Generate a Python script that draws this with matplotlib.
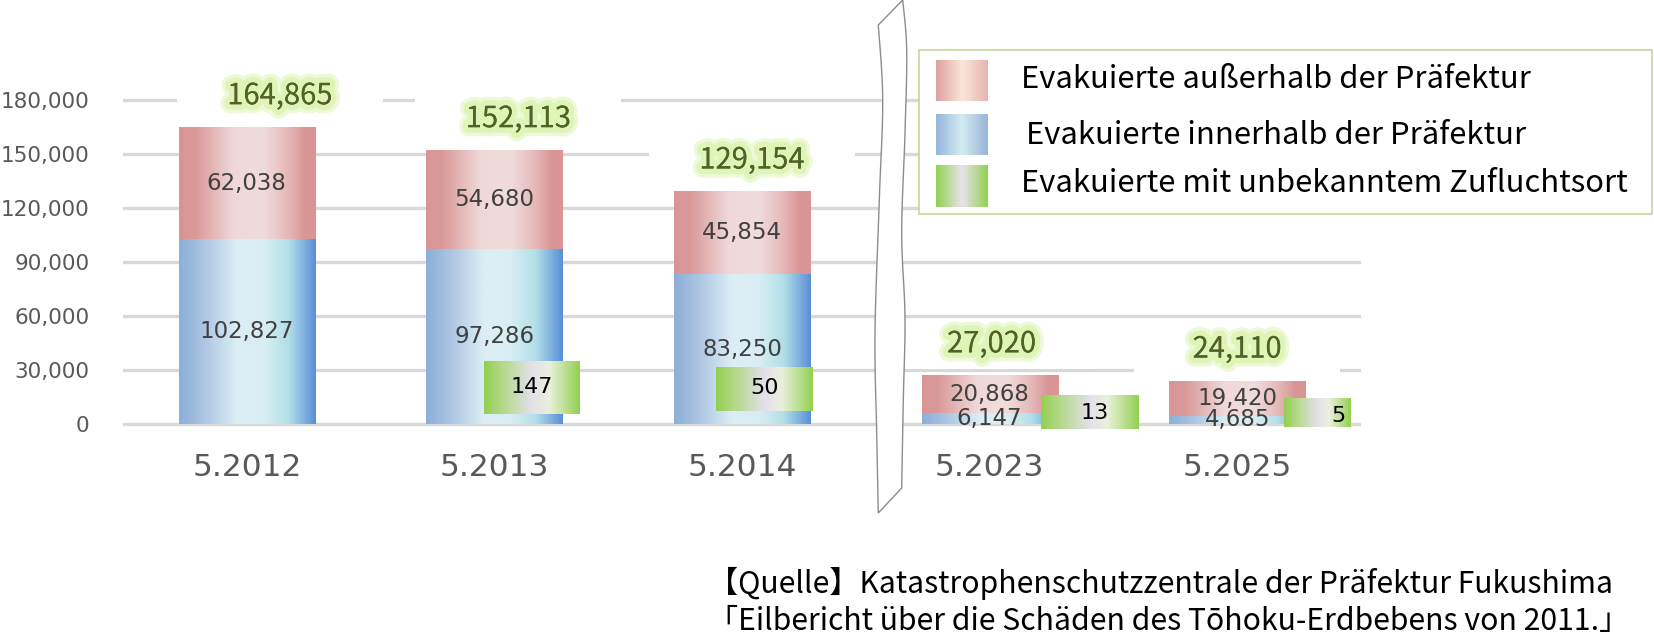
import numpy as np
import matplotlib
matplotlib.use("Agg")
import matplotlib.pyplot as plt
import matplotlib.patheffects as pe
from matplotlib.patches import Rectangle, PathPatch
from matplotlib.path import Path
from matplotlib.colors import to_rgb

# ---------------- data ----------------
categories = ["5.2012", "5.2013", "5.2014", "5.2023", "5.2025"]
inside_pref = [102827, 97286, 83250, 6147, 4685]
outside_pref = [62038, 54680, 45854, 20868, 19420]
unknown_dest = [None, 147, 50, 13, 5]
totals = [164865, 152113, 129154, 27020, 24110]
series_names = ["Evakuierte außerhalb der Präfektur",
                "Evakuierte innerhalb der Präfektur",
                "Evakuierte mit unbekanntem Zufluchtsort"]
y_ticks = [0, 30000, 60000, 90000, 120000, 150000, 180000]
source_lines = ["【Quelle】Katastrophenschutzzentrale der Präfektur Fukushima",
                "「Eilbericht über die Schäden des Tōhoku-Erdbebens von 2011.」"]

# ---------------- layout ----------------
W, H, DPI = 1654, 638, 100
AX_L, AX_R = 123, 1361          # px
ZERO_PX = 424                   # px of y=0
PXU = 54 / 30000                # px per data unit (y)
Y_MIN, Y_MAX = -4000, 200000
BAR_W = 0.55
# green label boxes: (x0 off, x1 off, y0, y1) relative to category centre / data y
unknown_box = [None, (-0.044, 0.343, 5556, 35000), (-0.105, 0.283, 7222, 31111),
               (0.206, 0.598, -2500, 16111), (0.19, 0.457, -1700, 13900)]
unknown_txt = [None, (0.15, 20300), (0.09, 19800), (0.424, 6000), (0.408, 4300)]
total_dx_px = [33, 24, 10, 2, 0]
total_dy_px = 31

JP = ["Noto Sans CJK JP", "DejaVu Sans"]


def fx(px):
    return px / W


def fy(py):
    return 1 - py / H


def gradient(stops, n=256):
    pos = [s[0] for s in stops]
    cols = np.array([to_rgb(s[1]) for s in stops])
    t = np.linspace(0, 1, n)
    arr = np.stack([np.interp(t, pos, cols[:, k]) for k in range(3)], axis=-1)
    return arr[None, :, :]


blue_grad = gradient([(0, "#8caed8"), (0.2, "#b0c8e4"), (0.42, "#dbeef5"),
                      (0.62, "#d8eef3"), (0.8, "#b3dfe8"), (0.92, "#7fb0df"), (1, "#5a8fd8")])
red_grad = gradient([(0, "#d99595"), (0.12, "#da9a9a"), (0.4, "#f0d8d8"),
                     (0.62, "#f1dcdc"), (0.8, "#e6b8b8"), (0.92, "#da9696"), (1, "#d99494")])
green_grad = gradient([(0, "#92d050"), (0.2, "#b5d98c"), (0.5, "#e4e0ea"),
                       (0.68, "#eaf0dc"), (1, "#92d050")])
leg_red = gradient([(0, "#dea0a0"), (0.5, "#fae6d8"), (1, "#e6b4b4")])
leg_blue = gradient([(0, "#94b4da"), (0.5, "#d4ecf2"), (1, "#98b4d8")])
leg_green = gradient([(0, "#92d050"), (0.5, "#e8e4ec"), (1, "#92d050")])

fig = plt.figure(figsize=(W / DPI, H / DPI), dpi=DPI)
ax_bottom_px = ZERO_PX + (-Y_MIN) * PXU
ax_height_px = (Y_MAX - Y_MIN) * PXU
ax = fig.add_axes([fx(AX_L), 1 - ax_bottom_px / H, (AX_R - AX_L) / W, ax_height_px / H])
ax.set_facecolor("none")

x = np.arange(len(categories))
bars_in = ax.bar(x, inside_pref, BAR_W, color="none", zorder=2)
bars_out = ax.bar(x, outside_pref, BAR_W, bottom=inside_pref, color="none", zorder=2)

for rects, grad in ((bars_in, blue_grad), (bars_out, red_grad)):
    for r in rects:
        x0, y0, w, h = r.get_x(), r.get_y(), r.get_width(), r.get_height()
        ax.imshow(grad, extent=(x0, x0 + w, y0, y0 + h), aspect="auto",
                  interpolation="bilinear", zorder=2)

# segment labels
for i in range(len(categories)):
    ax.text(x[i], inside_pref[i] / 2, f"{inside_pref[i]:,}", ha="center", va="center",
            fontsize=16.5, color="#404040", zorder=4)
    ax.text(x[i], inside_pref[i] + outside_pref[i] / 2, f"{outside_pref[i]:,}",
            ha="center", va="center", fontsize=16.5, color="#404040", zorder=4)

# unknown destination label boxes
for i, v in enumerate(unknown_dest):
    if v is None:
        continue
    b = unknown_box[i]
    im = ax.imshow(green_grad, extent=(x[i] + b[0], x[i] + b[1], b[2], b[3]),
                   aspect="auto", interpolation="bilinear", zorder=5)
    im.set_clip_on(False)
    t = unknown_txt[i]
    ax.text(x[i] + t[0], t[1], f"{v:,}", ha="center", va="center", fontsize=16,
            color="black", zorder=6)

# total labels with white halo box and green glow
px_per_x = (AX_R - AX_L) / 5.0
for i, tot in enumerate(totals):
    cx = x[i] + total_dx_px[i] / px_per_x
    cy = tot + total_dy_px / PXU
    bw = 206 / px_per_x
    bh = 50 / PXU
    ax.add_patch(Rectangle((cx - bw / 2, cy - bh / 2), bw, bh, fc="white", ec="none",
                           zorder=1.5))
    ax.text(cx, cy, f"{tot:,}", ha="center", va="center", fontsize=21, family=JP,
            color="#4f6228", zorder=4,
            path_effects=[pe.withStroke(linewidth=13, foreground="#eef9da"),
                          pe.withStroke(linewidth=8, foreground="#dff5b8"),
                          pe.Normal()])

ax.set_xlim(-0.5, 4.5)
ax.set_ylim(Y_MIN, Y_MAX)
ax.set_yticks(y_ticks)
ax.set_yticklabels([f"{v:,}" for v in y_ticks])
ax.set_xticks(x)
ax.set_xticklabels(categories)
ax.yaxis.grid(True, color="#d9d9d9", linewidth=2.4)
ax.set_axisbelow(True)
for s in ax.spines.values():
    s.set_visible(False)
ax.tick_params(axis="y", length=0, pad=24, labelsize=15.5, labelcolor="#595959")
ax.tick_params(axis="x", length=0, pad=15.5, labelsize=22.5, labelcolor="#595959")

# legend (drawn manually)
fig.add_artist(Rectangle((fx(919), fy(214)), fx(1652) - fx(919), fy(50) - fy(214),
                         transform=fig.transFigure, fc="white", ec="#c4d79b", lw=1.2,
                         zorder=3))
leg_rows = [(60, 101, 79, 1021, leg_red), (114, 155, 136, 1026, leg_blue),
            (165, 207, 184, 1021, leg_green)]
for name, (top, bot, cyy, tx, g) in zip(series_names, leg_rows):
    sax = fig.add_axes([fx(936), fy(bot), (988 - 936) / W, (bot - top) / H], zorder=4)
    sax.imshow(g, aspect="auto", extent=(0, 1, 0, 1), interpolation="bilinear")
    sax.axis("off")
    fig.text(fx(tx), fy(cyy), name, ha="left", va="center", fontsize=22.3, family=JP,
             color="black", zorder=5)

# axis break marker
def catmull(pts, n=12):
    pts = np.asarray(pts, float)
    P = np.vstack([pts[0], pts, pts[-1]])
    out = []
    for k in range(1, len(P) - 2):
        p0, p1, p2, p3 = P[k - 1], P[k], P[k + 1], P[k + 2]
        for t in np.linspace(0, 1, n, endpoint=False):
            t2, t3 = t * t, t * t * t
            out.append(0.5 * ((2 * p1) + (-p0 + p2) * t + (2 * p0 - 5 * p1 + 4 * p2 - p3) * t2
                              + (-p0 + 3 * p1 - 3 * p2 + p3) * t3))
    out.append(P[-2])
    return np.array(out)


right_edge = [(902.7, 0), (906.7, 50), (905, 133), (901.7, 233), (905, 317),
              (903.3, 400), (901.7, 488)]
left_edge = [(878.3, 513), (876.7, 433), (875, 333), (879.3, 200), (882.7, 100), (878.3, 25)]
outline = np.vstack([catmull(right_edge), catmull(left_edge), [right_edge[0]]])
verts = np.column_stack([outline[:, 0] / W, 1 - outline[:, 1] / H])
codes = [Path.MOVETO] + [Path.LINETO] * (len(verts) - 2) + [Path.CLOSEPOLY]
fig.add_artist(PathPatch(Path(verts, codes), transform=fig.transFigure, fc="white",
                         ec="#8c8c8c", lw=1.0, zorder=6))

# source
for line, py in zip(source_lines, (583, 621)):
    fig.text(fx(708), fy(py), line, ha="left", va="center", fontsize=21.7, family=JP,
             color="black")

fig.savefig("out.png", dpi=DPI)
